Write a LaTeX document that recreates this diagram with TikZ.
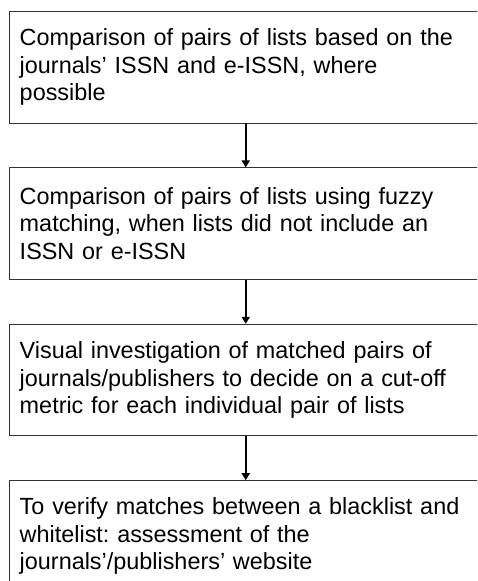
\documentclass[tikz,border=0pt]{standalone}
\usepackage{fontspec}
\setmainfont{Liberation Sans}
\frenchspacing
\usetikzlibrary{positioning,arrows.meta}
\begin{document}
\begin{tikzpicture}[node distance={44pt}, main/.style = {draw=black!80, line width=0.9pt, rectangle, minimum width=472.6pt, minimum height=111.5pt, text width=452pt, inner xsep=9pt, inner ysep=0pt, align=left, font=\fontsize{23.4}{27.5}\selectfont}, flow/.style = {line width=2pt, -{Triangle[length=7pt,width=8pt]}}]
        \useasboundingbox (0,0) rectangle (477pt,-581pt);
        \clip (0,0) rectangle (477pt,-581pt);
        \node[main, anchor=north west] (issn) at (9pt,-11pt) {Comparison of pairs of lists based on the\\journals’ ISSN and e-ISSN, where\\possible};
        \node[main] (fuzzy) [below=of issn] {Comparison of pairs of lists using fuzzy\\matching, when lists did not include an\\ISSN or e-ISSN};
        \node[main] (visual) [below=of fuzzy] {Visual investigation of matched pairs of\\journals/publishers to decide on a cut-off\\metric for each individual pair of lists};
        \node[main] (check) [below=of visual] {To verify matches between a blacklist and\\whitelist: assessment of the\\journals’/publishers’ website};
        \draw[flow] (issn) -- (fuzzy);
        \draw[flow] (fuzzy) -- (visual);
        \draw[flow] (visual) -- (check);
    \end{tikzpicture}
\end{document}
